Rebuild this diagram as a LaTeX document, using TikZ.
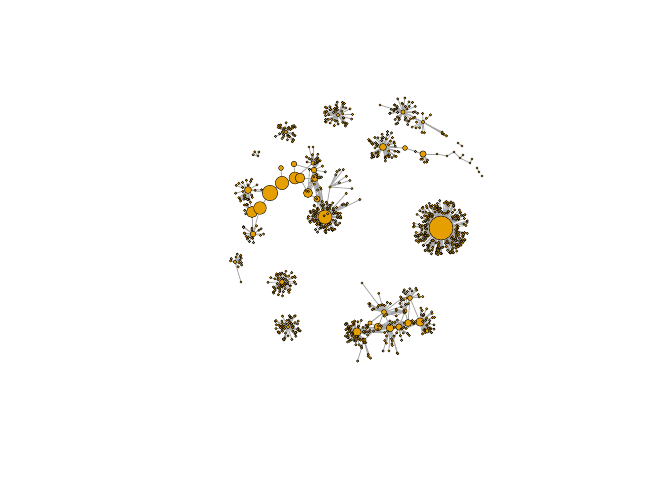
\documentclass[tikz,border=0pt]{standalone}
\usetikzlibrary{calc}
\definecolor{Vertex}{HTML}{E69F00}
\definecolor{EdgeGray}{HTML}{A6A6A6}

\tikzset{
  vtx/.style={circle,draw=black,line width=0.3pt,fill=Vertex,inner sep=0pt,minimum size=#1},
  vtx/.default=1.7pt,
  edge/.style={draw=EdgeGray,line width=0.6pt},
}

% leaf positions and spokes: prefix, hub, count, rmin, rmax, amin, amax
\newcommand{\leafstar}[7]{%
  \foreach \k in {1,...,#3}{%
    \pgfmathsetmacro{\ang}{#6+rnd*(#7-#6)}%
    \pgfmathsetmacro{\rad}{#4+rnd*(#5-#4)}%
    \coordinate (#1-\k) at ($(#2)+(\ang:\rad)$);%
    \draw[edge] (#2) -- (#1-\k);%
  }}
% shared leaves between two hubs: prefix, hub a, hub b, count, spread
\newcommand{\bridge}[5]{%
  \foreach \k in {1,...,#4}{%
    \pgfmathsetmacro{\dx}{(rnd-0.5)*#5}%
    \pgfmathsetmacro{\dy}{(rnd-0.5)*#5}%
    \coordinate (#1-\k) at ($($(#2)!rnd!(#3)$)+(\dx,\dy)$);%
    \draw[edge] (#2) -- (#1-\k) -- (#3);%
  }}
% vertices on the leaf positions: prefix, count
\newcommand{\leafnodes}[2]{%
  \foreach \k in {1,...,#2}{\node[vtx] (#1-\k) at (#1-\k) {};}}

\begin{document}
\begin{tikzpicture}[x=0.025cm,y=-0.025cm]
  \pgfmathsetseed{7}
  \useasboundingbox (0,0) rectangle (672,480);

  % hub positions
  \coordinate (big) at (441,228);
  \coordinate (mid) at (325,217);
  \coordinate (t1) at (313,163);
  \coordinate (t2) at (314,170);
  \coordinate (t3) at (315,178);
  \coordinate (t4) at (330,187);
  \coordinate (c1) at (248,190);
  \coordinate (c2) at (252,212);
  \coordinate (c3) at (260,208);
  \coordinate (c4) at (270,193);
  \coordinate (c5) at (282,183);
  \coordinate (c6) at (295,178);
  \coordinate (c7) at (300,178);
  \coordinate (c8) at (308,193);
  \coordinate (c9) at (317,199);
  \coordinate (c10) at (294,164);
  \coordinate (c11) at (281,168);
  \coordinate (c12) at (253,234);
  \coordinate (r1) at (383,147);
  \coordinate (r2) at (405,148);
  \coordinate (r3) at (423,154);
  \coordinate (r4) at (437,154);
  \coordinate (r5) at (447,156);
  \coordinate (r6) at (454,152);
  \coordinate (r7) at (460,158);
  \coordinate (r8) at (463,155);
  \coordinate (r9) at (470,163);
  \coordinate (r10) at (472,159);
  \coordinate (r11) at (477,168);
  \coordinate (r12) at (479,172);
  \coordinate (r13) at (482,176);
  \coordinate (s1) at (403,112);
  \coordinate (s2) at (423,122);
  \coordinate (s3) at (380,105);
  \coordinate (s4) at (458,143);
  \coordinate (s5) at (462,146);
  \coordinate (u1) at (338,115);
  \coordinate (u2) at (286,132);
  \coordinate (u3) at (258,156);
  \coordinate (u4) at (309,147);
  \coordinate (u5) at (313,147);
  \coordinate (l1) at (235,262);
  \coordinate (l2) at (241,282);
  \coordinate (l3) at (282,282);
  \coordinate (l4) at (288,327);
  \coordinate (b1) at (357,332);
  \coordinate (b2) at (378,327);
  \coordinate (b3) at (390,328);
  \coordinate (b4) at (399,327);
  \coordinate (b5) at (408,323);
  \coordinate (b6) at (420,322);
  \coordinate (b7) at (384,312);
  \coordinate (b8) at (410,298);
  \coordinate (b9) at (364,340);
  \coordinate (b10) at (370,323);
  \coordinate (b11) at (405,311);
  \coordinate (b12) at (427,331);
  \coordinate (b13) at (362,283);

  % spokes
  \leafstar{big}{big}{230}{14}{28}{0}{360}
  \leafstar{mid}{mid}{100}{8}{17}{0}{360}
  \leafstar{midne}{mid}{6}{18}{40}{-60}{-20}
  \leafstar{t1}{t1}{10}{4}{10}{180}{360}
  \leafstar{t2}{t2}{12}{5}{12}{-90}{90}
  \leafstar{t4}{t4}{8}{8}{22}{-80}{20}
  \leafstar{c1}{c1}{25}{5}{14}{0}{360}
  \leafstar{c12}{c12}{18}{4}{12}{0}{360}
  \leafstar{c2}{c2}{6}{6}{12}{120}{240}
  \leafstar{r1}{r1}{52}{6}{17}{0}{360}
  \leafstar{r3}{r3}{6}{5}{10}{20}{200}
  \leafstar{s1}{s1}{38}{5}{15}{0}{360}
  \leafstar{s2}{s2}{10}{5}{12}{0}{360}
  \leafstar{s2se}{s2}{4}{18}{32}{25}{40}
  \leafstar{u1}{u1}{48}{4}{15}{0}{360}
  \leafstar{u2}{u2}{32}{3}{12}{0}{360}
  \leafstar{u3}{u3}{3}{3}{6}{0}{360}
  \leafstar{l1}{l1}{12}{3}{9}{0}{360}
  \leafstar{l3}{l3}{55}{3}{14}{0}{360}
  \leafstar{l4}{l4}{55}{3}{14}{0}{360}
  \leafstar{b1}{b1}{65}{4}{14}{0}{360}
  \leafstar{b6}{b6}{30}{5}{16}{-90}{90}
  \leafstar{b8}{b8}{12}{5}{13}{180}{360}
  \leafstar{b7}{b7}{14}{6}{22}{180}{330}
  \leafstar{b3}{b3}{10}{8}{28}{60}{120}
  \leafstar{b4}{b4}{8}{6}{20}{30}{150}
  \leafstar{b9}{b9}{6}{6}{22}{60}{120}
  \leafstar{b11}{b11}{8}{5}{14}{180}{360}

  % shared leaves
  \bridge{m3}{t3}{mid}{10}{10}
  \bridge{m4}{c8}{t2}{5}{8}
  \bridge{mb}{b2}{b5}{10}{10}
  \bridge{mc}{b3}{b6}{8}{10}
  \bridge{md}{b1}{b3}{8}{10}
  \bridge{me}{b7}{b11}{6}{10}

  % edges between hubs
  \foreach \a/\b in {c1/c2,c2/c3,c3/c4,c4/c5,c5/c6,c6/c7,c7/c8,c8/c9,c9/mid,
                     c2/c12,c3/c12,c10/c6,c11/c5,c10/t2,c7/t3,c8/t3,c9/t3,
                     c6/t1,t1/t2,t2/t3,t3/mid,t2/mid,t1/mid,t4/mid,c1/c4,
                     r1/r2,r2/r3,r3/r4,r4/r5,r5/r6,r6/r7,r7/r8,r7/r9,r9/r10,r11/r12,
                     s1/s3,s1/s2,s4/s5,u4/t1,u5/t1,l1/l2,
                     b1/b10,b10/b2,b2/b3,b3/b4,b4/b5,b5/b6,b6/b12,b1/b9,b9/b2,
                     b7/b2,b7/b3,b7/b10,b11/b5,b11/b4,b8/b5,b8/b11,b8/b6,
                     b13/b7,b2/b5,b3/b6,b1/b3,b10/b7}
    \draw[edge] (\a) -- (\b);

  % vertices
  \foreach \n/\s in {big/17pt,mid/10pt,t1/3pt,t2/4pt,t3/5pt,t4/2pt,
                     c1/5pt,c2/8pt,c3/9pt,c4/11pt,c5/9.5pt,c6/8.5pt,c7/7pt,
                     c8/6.5pt,c9/4.5pt,c10/4pt,c11/3.5pt,c12/4pt,
                     r1/5pt,r2/3.5pt,r3/4.5pt,r4/1.7pt,r5/1.7pt,r6/1.7pt,r7/1.7pt,
                     r8/1.7pt,r9/1.7pt,r10/1.7pt,r11/1.7pt,r12/1.7pt,r13/1.7pt,
                     s1/3pt,s2/2.6pt,s3/1.7pt,s4/1.7pt,s5/1.7pt,
                     u1/2.6pt,u2/2.6pt,u3/1.7pt,u4/1.7pt,u5/1.7pt,
                     l1/2.6pt,l2/1.7pt,l3/3.5pt,l4/2.6pt,
                     b1/6pt,b2/5.5pt,b3/5.5pt,b4/4.5pt,b5/5pt,b6/6pt,b7/3.5pt,
                     b8/3.5pt,b9/3pt,b10/3pt,b11/3pt,b12/3pt,b13/1.7pt}
    \node[vtx=\s] (\n) at (\n) {};
  \leafnodes{big}{230}
  \leafnodes{mid}{100}
  \leafnodes{midne}{6}
  \leafnodes{t1}{10}
  \leafnodes{t2}{12}
  \leafnodes{t4}{8}
  \leafnodes{c1}{25}
  \leafnodes{c12}{18}
  \leafnodes{c2}{6}
  \leafnodes{r1}{52}
  \leafnodes{r3}{6}
  \leafnodes{s1}{38}
  \leafnodes{s2}{10}
  \leafnodes{s2se}{4}
  \leafnodes{u1}{48}
  \leafnodes{u2}{32}
  \leafnodes{u3}{3}
  \leafnodes{l1}{12}
  \leafnodes{l3}{55}
  \leafnodes{l4}{55}
  \leafnodes{b1}{65}
  \leafnodes{b6}{30}
  \leafnodes{b8}{12}
  \leafnodes{b7}{14}
  \leafnodes{b3}{10}
  \leafnodes{b4}{8}
  \leafnodes{b9}{6}
  \leafnodes{b11}{8}
  \leafnodes{m3}{10}
  \leafnodes{m4}{5}
  \leafnodes{mb}{10}
  \leafnodes{mc}{8}
  \leafnodes{md}{8}
  \leafnodes{me}{6}
\end{tikzpicture}
\end{document}
